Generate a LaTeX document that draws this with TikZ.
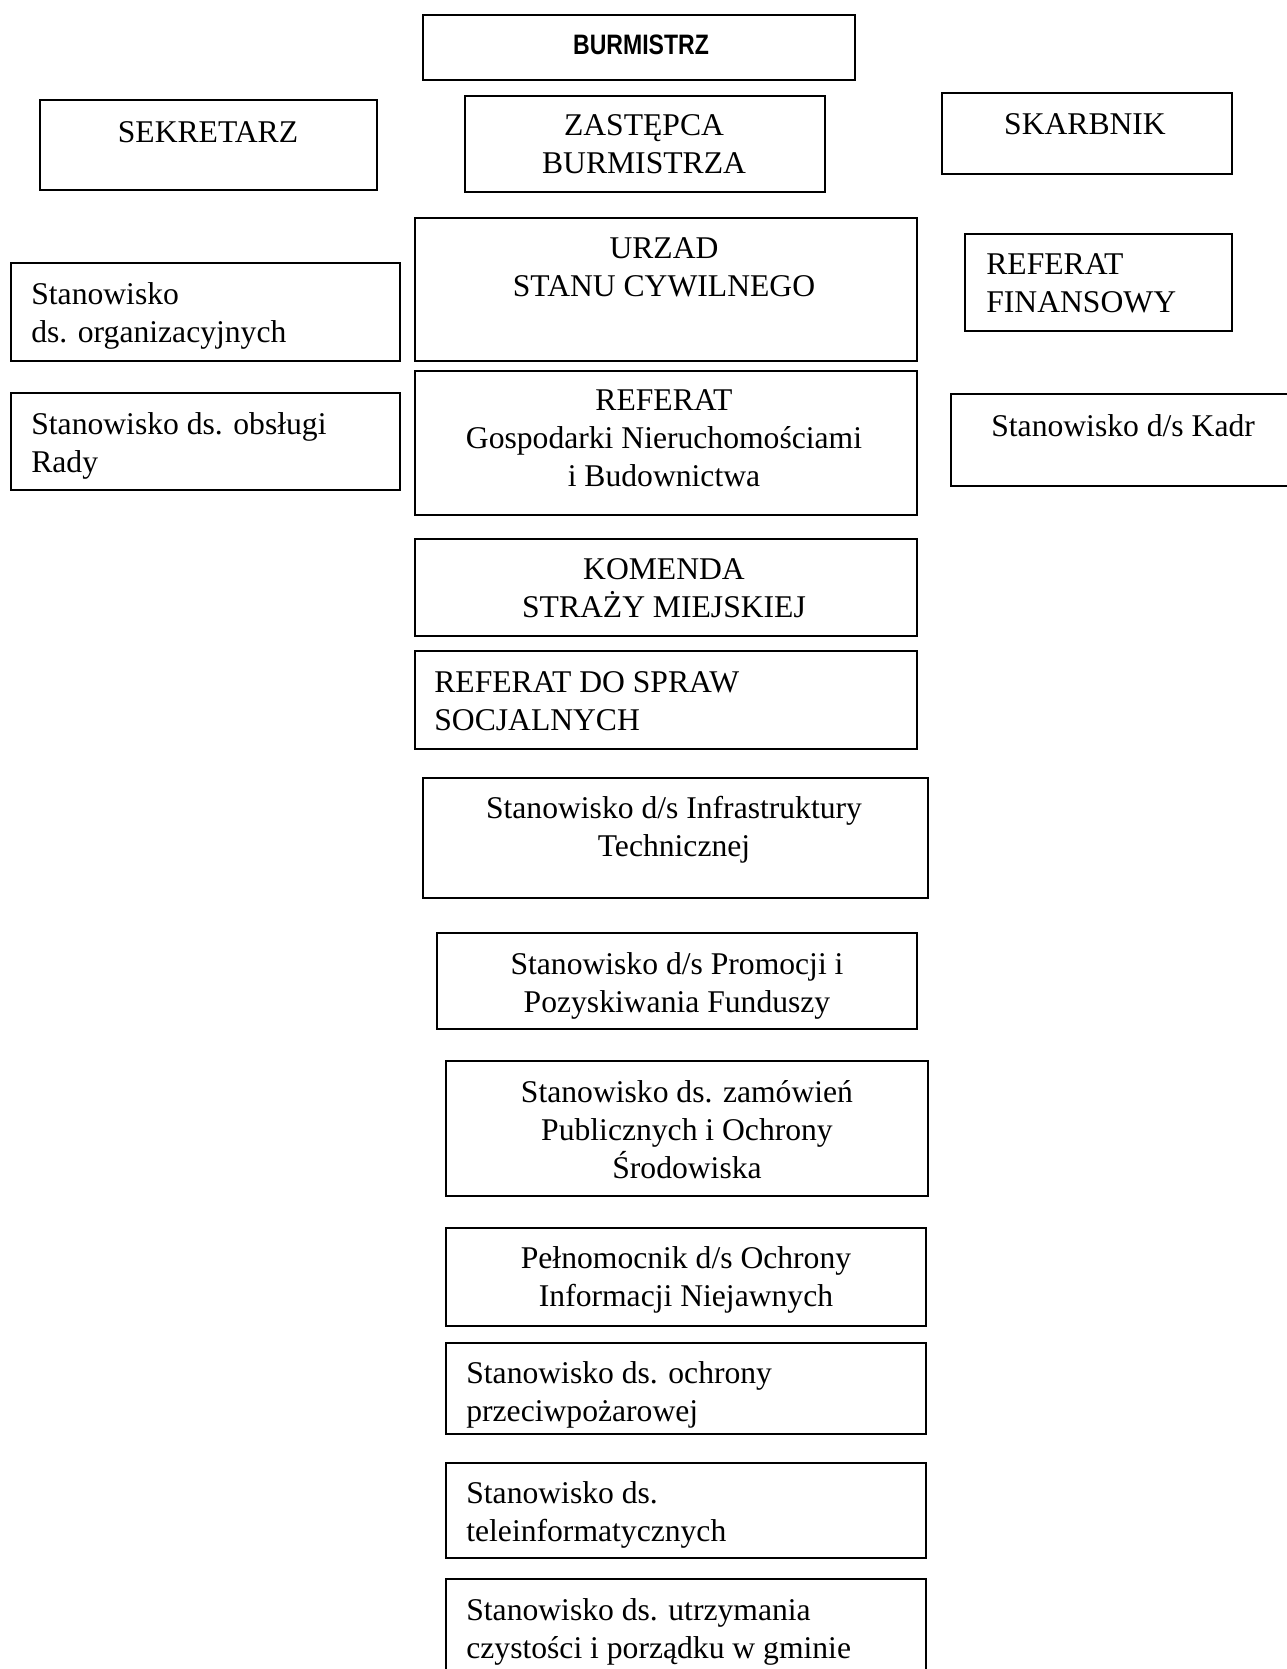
\documentclass[tikz,border=0pt]{standalone}
\usepackage{fontspec}
\setmainfont{Liberation Serif}
\newfontfamily\narrowsans[FakeStretch=0.82]{Liberation Sans}

\tikzset{
  box/.style={line width=1.3pt},
  lbl/.style={inner sep=0pt, font=\fontsize{18}{21.6}\selectfont},
  lblleft/.style={lbl, anchor=west, align=left},
  lblmid/.style={lbl, align=center},
}

\begin{document}
\begin{tikzpicture}[x=0.02cm, y=-0.02cm]
\clip (0,0) rectangle (1287,1669);

% top row
\draw [box] (423,15) rectangle (855,80);
\node [lbl, font=\fontsize{16}{19}\narrowsans\bfseries] (burmistrz) at (641,45) {BURMISTRZ};

\draw [box] (40,100) rectangle (377,190);
\node [lblmid] (sekretarz) at (208,132) {SEKRETARZ};

\draw [box] (465,96) rectangle (825,192);
\node [lblmid] (zastepca) at (644,144) {ZASTĘPCA\\BURMISTRZA};

\draw [box] (942,93) rectangle (1232,174);
\node [lblmid] (skarbnik) at (1085,124) {SKARBNIK};

% left column
\draw [box] (11,263) rectangle (400,361);
\node [lblleft] (organiz) at (31,316) {Stanowisko\\ds. organizacyjnych};

\draw [box] (11,393) rectangle (400,490);
\node [lblleft] (rada) at (31,446) {Stanowisko ds. obsługi\\Rady};

% right column
\draw [box] (965,234) rectangle (1232,331);
\node [lblleft] (finanse) at (986,283) {REFERAT\\FINANSOWY};

\draw [box] (951,394) rectangle (1295,486);
\node [lblleft] (kadry) at (991,426) {Stanowisko d/s Kadr};

% middle column
\draw [box] (415,218) rectangle (917,361);
\node [lblmid] (usc) at (664,267) {URZAD\\STANU CYWILNEGO};

\draw [box] (415,371) rectangle (917,515);
\node [lblmid] (nieruch) at (664,438) {REFERAT\\Gospodarki Nieruchomościami\\i Budownictwa};

\draw [box] (415,539) rectangle (917,636);
\node [lblmid] (straz) at (664,588) {KOMENDA\\STRAŻY MIEJSKIEJ};

\draw [box] (415,651) rectangle (917,749);
\node [lblleft] (socjalne) at (434,701) {REFERAT DO SPRAW\\SOCJALNYCH};

\draw [box] (423,778) rectangle (928,898);
\node [lblmid] (infra) at (674,830) {Stanowisko d/s Infrastruktury\\Technicznej};

\draw [box] (437,933) rectangle (917,1029);
\node [lblmid] (promocja) at (677,986) {Stanowisko d/s Promocji i\\Pozyskiwania Funduszy};

\draw [box] (446,1061) rectangle (928,1196);
\node [lblmid] (zamowienia) at (687,1130) {Stanowisko ds. zamówień\\Publicznych i Ochrony\\Środowiska};

\draw [box] (446,1228) rectangle (926,1326);
\node [lblmid] (pelnomocnik) at (686,1280) {Pełnomocnik d/s Ochrony\\Informacji Niejawnych};

\draw [box] (446,1343) rectangle (926,1434);
\node [lblleft] (ppoz) at (466,1395) {Stanowisko ds. ochrony\\przeciwpożarowej};

\draw [box] (446,1463) rectangle (926,1558);
\node [lblleft] (teleinf) at (466,1515) {Stanowisko ds.\\teleinformatycznych};

\draw [box] (446,1579) rectangle (926,1700);
\node [lblleft] (czystosc) at (466,1632) {Stanowisko ds. utrzymania\\czystości i porządku w gminie};
\end{tikzpicture}
\end{document}
